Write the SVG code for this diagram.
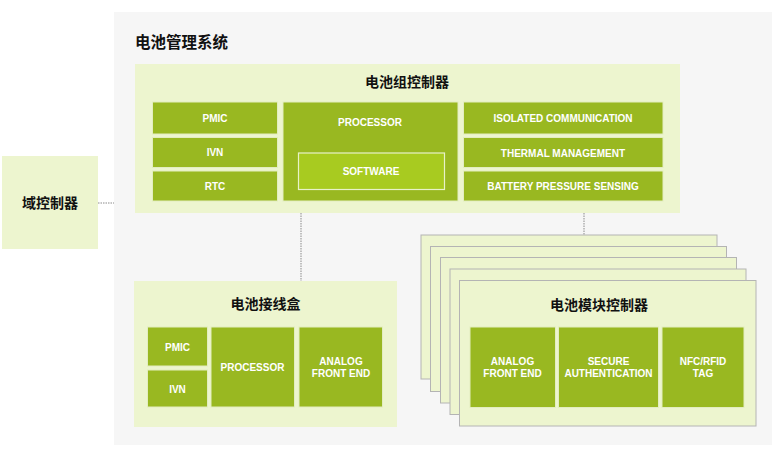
<svg xmlns="http://www.w3.org/2000/svg" width="781" height="451" viewBox="0 0 781 451">
<style>
.bg{fill:#f6f6f6}
.panel{fill:#edf5cf}
.card{fill:#edf5cf;stroke:#b4b4b4;stroke-width:1}
.box{fill:#99b821;stroke:#e3edc0;stroke-width:1}
.sw{fill:#a8cb20;stroke:#e8f2c8;stroke-width:1.2}
.t{font-family:"Liberation Sans",Arial,sans-serif;font-weight:bold;font-size:10px;fill:#ffffff;text-anchor:middle}
.h{font-family:"Liberation Sans","Noto Sans CJK SC",sans-serif;font-weight:bold;font-size:14px;fill:#111111;text-anchor:middle}
.conn{stroke:#8a8a8a;stroke-width:1;stroke-dasharray:1.5,1;fill:none}
</style>
<rect class="bg" x="114" y="12" width="658" height="433"/>
<text x="135" y="48" font-family="'Liberation Sans','Noto Sans CJK SC',sans-serif" font-weight="bold" font-size="15.5" fill="#111">电池管理系统</text>

<g id="connectors">
<line class="conn" x1="98" y1="203" x2="114" y2="203"/>
<line class="conn" x1="301" y1="213" x2="301" y2="281"/>
<line class="conn" x1="584" y1="213" x2="584" y2="235"/>
</g>

<g id="domain-controller">
<rect class="panel" x="2" y="156" width="96" height="93"/>
<text class="h" x="50" y="208">域控制器</text>
</g>

<g id="pack-controller">
<rect class="panel" x="135" y="64" width="545" height="149"/>
<text class="h" x="407" y="87">电池组控制器</text>
<rect class="box" x="152.5" y="102" width="125" height="32"/>
<text class="t" x="215" y="121.5">PMIC</text>
<rect class="box" x="152.5" y="137.5" width="125" height="30"/>
<text class="t" x="215" y="156">IVN</text>
<rect class="box" x="152.5" y="171" width="125" height="30"/>
<text class="t" x="215" y="189.5">RTC</text>
<rect class="box" x="283" y="102" width="175" height="99"/>
<text class="t" x="370" y="126">PROCESSOR</text>
<rect class="sw" x="298.5" y="153" width="146" height="36.5"/>
<text class="t" x="371" y="174.5">SOFTWARE</text>
<rect class="box" x="463.5" y="102" width="199.5" height="32"/>
<text class="t" x="563" y="121.5">ISOLATED COMMUNICATION</text>
<rect class="box" x="463.5" y="137.5" width="199.5" height="30"/>
<text class="t" x="563" y="156.5">THERMAL MANAGEMENT</text>
<rect class="box" x="463.5" y="171" width="199.5" height="30"/>
<text class="t" x="563" y="190">BATTERY PRESSURE SENSING</text>
</g>

<g id="junction-box">
<rect class="panel" x="134" y="281" width="263" height="146"/>
<text class="h" x="265.5" y="309">电池接线盒</text>
<rect class="box" x="147.5" y="327" width="60" height="39"/>
<text class="t" x="177.5" y="351">PMIC</text>
<rect class="box" x="147.5" y="370" width="60" height="37"/>
<text class="t" x="177.5" y="392.5">IVN</text>
<rect class="box" x="211" y="327" width="83.5" height="80"/>
<text class="t" x="252.5" y="371">PROCESSOR</text>
<rect class="box" x="299" y="327" width="83.5" height="80"/>
<text class="t" x="341" y="364.5">ANALOG</text>
<text class="t" x="341" y="376.5">FRONT END</text>
</g>

<g id="module-controller">
<rect class="card" x="421" y="235" width="296" height="144"/>
<rect class="card" x="430.5" y="246.5" width="296" height="145"/>
<rect class="card" x="440.5" y="257.5" width="296" height="145.5"/>
<rect class="card" x="450" y="269" width="296" height="145.5"/>
<rect class="card" x="459.5" y="280.5" width="296.5" height="145.5"/>
<text class="h" x="599" y="310">电池模块控制器</text>
<rect class="box" x="470" y="327" width="85.5" height="80.5"/>
<text class="t" x="512.5" y="365">ANALOG</text>
<text class="t" x="512.5" y="377">FRONT END</text>
<rect class="box" x="558.5" y="327" width="100" height="80.5"/>
<text class="t" x="608.5" y="365">SECURE</text>
<text class="t" x="608.5" y="377">AUTHENTICATION</text>
<rect class="box" x="662" y="327" width="82" height="80.5"/>
<text class="t" x="703" y="365">NFC/RFID</text>
<text class="t" x="703" y="377">TAG</text>
</g>
</svg>
